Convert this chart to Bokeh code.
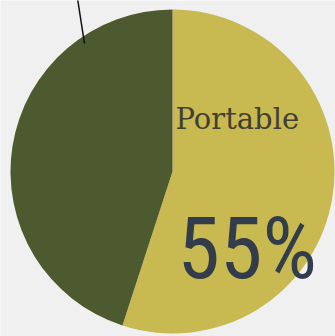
import numpy as np
from bokeh.plotting import figure
from bokeh.models import Range1d
from bokeh.core.properties import value
from bokeh.embed import file_html
from bokeh.resources import INLINE

# data
labels = ["Other", "Portable"]
shares = [45, 55]
colors = ["#4d5a2f", "#c8b950"]

W, H = 335, 336
p = figure(width=W, height=H, output_backend="svg", toolbar_location=None,
           x_range=Range1d(0, W), y_range=Range1d(0, H), min_border=0)
p.axis.visible = False
p.grid.visible = False
p.outline_line_color = None
p.background_fill_color = "#f0f0f0"
p.border_fill_color = "#f0f0f0"

cx, cy, r = 172, 165, 162
fr = np.array(shares, dtype=float) / sum(shares)
# Portable starts at 12 o'clock going clockwise; Other fills the rest
port_start = np.pi / 2
port_end = port_start - fr[1] * 2 * np.pi
p.wedge(x=cx, y=cy, radius=r, start_angle=port_end, end_angle=port_start,
        direction="anticlock", fill_color=colors[1], line_color=None)
p.wedge(x=cx, y=cy, radius=r, start_angle=port_start, end_angle=port_end + 2 * np.pi,
        direction="anticlock", fill_color=colors[0], line_color=None)

# leader line
p.line(x=[77, 84], y=[H + 2, H - 43], line_color="#111111", line_width=1.5)

p.text(x=[175], y=[H - 118], text=[labels[1]], text_font=value("DejaVu Serif"),
       text_font_size="29px", text_color="#403f33", text_baseline="alphabetic")
p.text(x=[177], y=[H - 248], text=[f"{shares[1]}%"], text_font=value("Roboto Condensed"),
       text_font_size="86px", text_color="#323c4a", text_baseline="alphabetic")

open("out.html", "w").write(file_html(p, INLINE))
